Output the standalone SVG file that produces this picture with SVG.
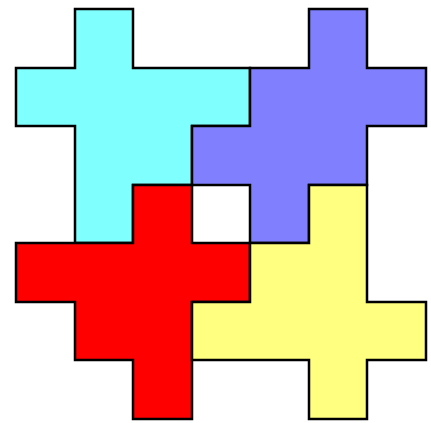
<svg xmlns="http://www.w3.org/2000/svg" width="431" height="423" viewBox="0 0 431 423">
<style>
.p{stroke:#000;stroke-width:2.5;stroke-linejoin:miter}
</style>
<rect width="431" height="423" fill="#fff"/>
<g id="cyan"><polygon class="p" fill="#80FFFF" points="75,9 133,9 133,68 250,68 250,126 192,126 192,185 133,185 133,243 75,243 75,126 16,126 16,68 75,68"/></g>
<g id="purple"><polygon class="p" fill="#8080FF" points="309,9 367,9 367,68 426,68 426,126 367,126 367,185 309,185 309,243 250,243 250,185 192,185 192,126 250,126 250,68 309,68"/></g>
<g id="red"><polygon class="p" fill="#FF0000" points="133,185 192,185 192,243 250,243 250,302 192,302 192,419 133,419 133,360 75,360 75,302 16,302 16,243 133,243"/></g>
<g id="yellow"><polygon class="p" fill="#FFFF80" points="309,185 367,185 367,302 426,302 426,360 367,360 367,419 309,419 309,360 192,360 192,302 250,302 250,243 309,243"/></g>
</svg>
